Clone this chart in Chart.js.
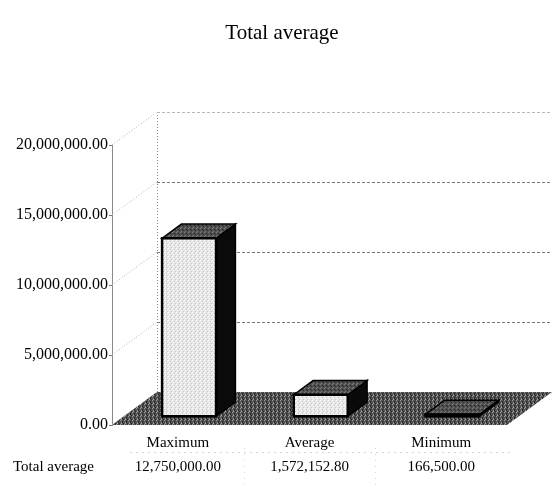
<!DOCTYPE html>
<html>
<head>
<meta charset="utf-8">
<script src="https://cdn.jsdelivr.net/npm/chart.js@4/dist/chart.umd.min.js"></script>
<style>
  html, body { margin: 0; padding: 0; background: #fff; }
  #wrap { width: 552px; height: 496px; }
</style>
</head>
<body>
<div id="wrap"><canvas id="chart" width="552" height="496"></canvas></div>
<script>
// Summary figures
const categories = ['Maximum', 'Average', 'Minimum'];
const totals = [12750000, 1572152.80, 166500];
const yTicks = [0, 5000000, 10000000, 15000000, 20000000];
const seriesName = 'Total average';

const serif = "'Liberation Serif', 'Times New Roman', serif";

// 3D look: how far the back wall sits behind the front plane
const depth = { x: 45, y: -33 };
const barFront = 0.25;
const barBack = 0.68;

function fmt(v) {
    return v.toLocaleString('en-US', { minimumFractionDigits: 2, maximumFractionDigits: 2 });
}

// Small dithered fills for the floor and box faces
const patternCtx = document.getElementById('chart').getContext('2d');
function stipple(base, dots) {
    const c = document.createElement('canvas');
    c.width = 4; c.height = 4;
    const g = c.getContext('2d');
    g.fillStyle = base;
    g.fillRect(0, 0, 4, 4);
    dots.forEach(([px, py, col]) => {
        g.fillStyle = col;
        g.fillRect(px, py, 1, 1);
    });
    return patternCtx.createPattern(c, 'repeat');
}

const floorFill = stipple('#555555', [[0, 0, '#9a9a9a'], [2, 1, '#222222'], [1, 2, '#888888'], [3, 3, '#2a2a2a'], [3, 0, '#3a3a3a'], [1, 3, '#a0a0a0'], [2, 2, '#1e1e1e']]);
const frontFill = stipple('#e6e6e6', [[0, 0, '#ffffff'], [2, 1, '#c0c0c0'], [1, 2, '#ffffff'], [3, 3, '#c8c8c8'], [3, 1, '#f8f8f8']]);
const topFill = stipple('#505050', [[0, 0, '#808080'], [2, 1, '#242424'], [1, 3, '#7a7a7a'], [3, 2, '#2e2e2e']]);

const box3d = {
    id: 'box3d',
    beforeDatasetsDraw(chart) {
        const { ctx, chartArea: a, scales: { y } } = chart;
        ctx.save();
        ctx.lineWidth = 1;

        // side wall diagonals
        ctx.strokeStyle = '#b0b0b0';
        ctx.setLineDash([1, 2]);
        yTicks.forEach(t => {
            const py = y.getPixelForValue(t);
            ctx.beginPath();
            ctx.moveTo(a.left, py);
            ctx.lineTo(a.left + depth.x, py + depth.y);
            ctx.stroke();
        });

        // back wall edge and gridlines
        ctx.strokeStyle = '#8a8a8a';
        ctx.beginPath();
        ctx.moveTo(a.left + depth.x + 0.5, a.top + depth.y);
        ctx.lineTo(a.left + depth.x + 0.5, a.bottom + depth.y);
        ctx.stroke();
        ctx.setLineDash([3, 2]);
        yTicks.slice(1).forEach(t => {
            const py = Math.round(y.getPixelForValue(t) + depth.y) + 0.5;
            ctx.strokeStyle = t === yTicks[yTicks.length - 1] ? '#b8b8b8' : '#7a7a7a';
            ctx.beginPath();
            ctx.moveTo(a.left + depth.x, py);
            ctx.lineTo(a.right + depth.x, py);
            ctx.stroke();
        });
        ctx.setLineDash([]);

        // floor
        const fy = y.getPixelForValue(0);
        ctx.fillStyle = floorFill;
        ctx.beginPath();
        ctx.moveTo(a.left, fy);
        ctx.lineTo(a.right, fy);
        ctx.lineTo(a.right + depth.x, fy + depth.y);
        ctx.lineTo(a.left + depth.x, fy + depth.y);
        ctx.closePath();
        ctx.fill();
        ctx.restore();
    },
    afterDatasetsDraw(chart) {
        const { ctx } = chart;
        const meta = chart.getDatasetMeta(0);
        const ox = depth.x * barFront, oy = depth.y * barFront;
        const dx = depth.x * (barBack - barFront), dy = depth.y * (barBack - barFront);
        ctx.save();
        ctx.lineJoin = 'miter';
        meta.data.forEach(bar => {
            const { x, y, base, width } = bar.getProps(['x', 'y', 'base', 'width'], true);
            const L = x - width / 2 + ox, R = x + width / 2 + ox;
            const T = y + oy, B = base + oy;

            // right side
            ctx.fillStyle = '#0a0a0a';
            ctx.beginPath();
            ctx.moveTo(R, T);
            ctx.lineTo(R + dx, T + dy);
            ctx.lineTo(R + dx, B + dy);
            ctx.lineTo(R, B);
            ctx.closePath();
            ctx.fill();
            ctx.strokeStyle = '#000';
            ctx.lineWidth = 1.5;
            ctx.stroke();

            // top
            ctx.fillStyle = topFill;
            ctx.beginPath();
            ctx.moveTo(L, T);
            ctx.lineTo(L + dx, T + dy);
            ctx.lineTo(R + dx, T + dy);
            ctx.lineTo(R, T);
            ctx.closePath();
            ctx.fill();
            ctx.stroke();

            // front
            ctx.fillStyle = frontFill;
            ctx.fillRect(L, T, R - L, B - T);
            ctx.lineWidth = 2.5;
            ctx.strokeRect(L, T, R - L, B - T);
        });
        ctx.restore();
    },
    afterDraw(chart) {
        const { ctx, scales: { x } } = chart;
        const rowY = 467;
        ctx.save();

        // title
        ctx.fillStyle = '#000';
        ctx.font = '21px ' + serif;
        ctx.textAlign = 'center';
        ctx.textBaseline = 'middle';
        ctx.fillText(seriesName, 282, 33);

        // data table grid
        ctx.strokeStyle = '#d4d4d4';
        ctx.lineWidth = 1;
        ctx.setLineDash([2, 4]);
        ctx.beginPath();
        ctx.moveTo(130, 452.5);
        ctx.lineTo(510, 452.5);
        ctx.stroke();
        ctx.setLineDash([1, 5]);
        const step = x.width / categories.length;
        for (let i = 1; i < categories.length; i++) {
            const px = Math.round(x.left + step * i) + 0.5;
            ctx.beginPath();
            ctx.moveTo(px, 448);
            ctx.lineTo(px, 490);
            ctx.stroke();
        }
        ctx.setLineDash([]);

        // data table row
        ctx.fillStyle = '#000';
        ctx.font = '15px ' + serif;
        ctx.textAlign = 'left';
        ctx.fillText(seriesName, 13, rowY);
        ctx.textAlign = 'center';
        totals.forEach((v, i) => {
            ctx.fillText(fmt(v), x.getPixelForValue(i), rowY);
        });
        ctx.restore();
    }
};

new Chart(document.getElementById('chart'), {
    type: 'bar',
    data: {
        labels: categories,
        datasets: [{
            label: seriesName,
            data: totals,
            backgroundColor: 'rgba(0,0,0,0)',
            borderWidth: 0,
            barPercentage: 0.41,
            categoryPercentage: 1
        }]
    },
    options: {
        responsive: false,
        animation: false,
        layout: {
            padding: { left: 0, right: 45, top: 145, bottom: 0 }
        },
        plugins: {
            legend: { display: false },
            tooltip: { enabled: false },
            title: { display: false }
        },
        scales: {
            x: {
                grid: { display: false },
                border: { display: false },
                ticks: {
                    color: '#000',
                    padding: 1,
                    font: { family: serif, size: 15 }
                },
                afterFit(scale) { scale.height = 71; }
            },
            y: {
                min: 0,
                max: 20000000,
                afterBuildTicks(scale) {
                    scale.ticks = yTicks.map(v => ({ value: v }));
                },
                grid: {
                    drawOnChartArea: false,
                    drawTicks: true,
                    tickLength: 3,
                    color: '#777'
                },
                border: { display: true, color: '#8a8a8a', width: 1, dash: [2, 1] },
                ticks: {
                    color: '#000',
                    padding: 1,
                    font: { family: serif, size: 16 },
                    callback: v => fmt(v)
                },
                afterFit(scale) { scale.width = 112; }
            }
        }
    },
    plugins: [box3d]
});
</script>
</body>
</html>
